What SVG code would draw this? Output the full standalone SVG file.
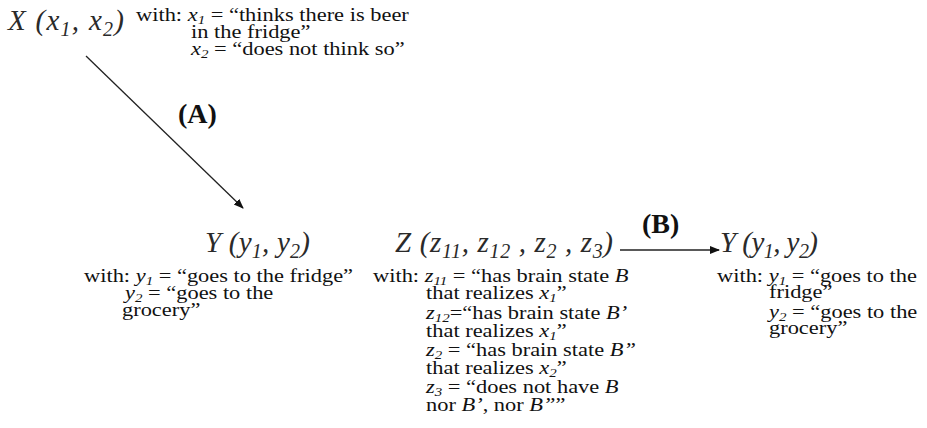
<svg xmlns="http://www.w3.org/2000/svg" width="927" height="428" viewBox="0 0 927 428">
<defs>
<style>
.big{font-family:"Liberation Serif","DejaVu Serif",serif;font-style:italic;font-size:29px;fill:#2a2a2a}
.t{font-family:"Liberation Serif","DejaVu Serif",serif;font-size:19.5px;fill:#111}
.v{font-style:italic}
.lab{font-family:"Liberation Serif","DejaVu Serif",serif;font-size:28px;font-weight:bold;fill:#111}
.edge{stroke:#222;stroke-width:1.3;fill:none}
</style>
<marker id="ah" viewBox="0 0 10 10" refX="9" refY="5" markerWidth="10" markerHeight="10" markerUnits="userSpaceOnUse" orient="auto">
<path d="M0,1 L10,5 L0,9 Z" fill="#111"/>
</marker>
</defs>
<rect width="927" height="428" fill="#fff"/>
<g id="connectors">
<line class="edge" x1="86" y1="56" x2="243" y2="208" marker-end="url(#ah)"/>
<text class="lab" x="178" y="123">(A)</text>
<line class="edge" x1="620" y1="250" x2="719" y2="250" marker-end="url(#ah)"/>
<text class="lab" x="642" y="233">(B)</text>
</g>
<g id="nodeX">
<text class="big" x="8" y="30" font-size="31" textLength="116">X (x<tspan font-size="20" dy="6">1</tspan><tspan dy="-6">, x</tspan><tspan font-size="20" dy="6">2</tspan><tspan dy="-6">)</tspan></text>
<text class="t" transform="translate(136 21) scale(1.15 1)">with: <tspan class="v">x</tspan><tspan class="v" font-size="13" dy="3">1</tspan><tspan dy="-3"> = “thinks there is beer</tspan></text>
<text class="t" transform="translate(191 38) scale(1.15 1)">in the fridge”</text>
<text class="t" transform="translate(191 55) scale(1.15 1)"><tspan class="v">x</tspan><tspan class="v" font-size="13" dy="3">2</tspan><tspan dy="-3"> = “does not think so”</tspan></text>
</g>
<g id="nodeY1">
<text class="big" x="205" y="252" textLength="105">Y (y<tspan font-size="20" dy="6">1</tspan><tspan dy="-6">, y</tspan><tspan font-size="20" dy="6">2</tspan><tspan dy="-6">)</tspan></text>
<text class="t" transform="translate(84 282) scale(1.15 1)">with: <tspan class="v">y</tspan><tspan class="v" font-size="13" dy="3">1</tspan><tspan dy="-3"> = “goes to the fridge”</tspan></text>
<text class="t" transform="translate(125 299) scale(1.15 1)"><tspan class="v">y</tspan><tspan class="v" font-size="13" dy="3">2</tspan><tspan dy="-3"> = “goes to the</tspan></text>
<text class="t" transform="translate(122 316) scale(1.15 1)">grocery”</text>
</g>
<g id="nodeZ">
<text class="big" x="395" y="252" textLength="218">Z (z<tspan font-size="20" dy="6">11</tspan><tspan dy="-6">, z</tspan><tspan font-size="20" dy="6">12</tspan><tspan dy="-6"> , z</tspan><tspan font-size="20" dy="6">2</tspan><tspan dy="-6"> , z</tspan><tspan font-size="20" dy="6">3</tspan><tspan dy="-6">)</tspan></text>
<text class="t" transform="translate(373 282) scale(1.15 1)">with: <tspan class="v">z</tspan><tspan class="v" font-size="13" dy="3">11</tspan><tspan dy="-3"> = “has brain state </tspan><tspan class="v">B</tspan></text>
<text class="t" transform="translate(426 299) scale(1.15 1)">that realizes <tspan class="v">x</tspan><tspan class="v" font-size="13" dy="3">1</tspan><tspan dy="-3">”</tspan></text>
<text class="t" transform="translate(426 319) scale(1.15 1)"><tspan class="v">z</tspan><tspan class="v" font-size="13" dy="3">12</tspan><tspan dy="-3">=“has brain state </tspan><tspan class="v">B’</tspan></text>
<text class="t" transform="translate(426 337) scale(1.15 1)">that realizes <tspan class="v">x</tspan><tspan class="v" font-size="13" dy="3">1</tspan><tspan dy="-3">”</tspan></text>
<text class="t" transform="translate(426 356) scale(1.15 1)"><tspan class="v">z</tspan><tspan class="v" font-size="13" dy="3">2</tspan><tspan dy="-3"> = “has brain state </tspan><tspan class="v">B”</tspan></text>
<text class="t" transform="translate(426 374) scale(1.15 1)">that realizes <tspan class="v">x</tspan><tspan class="v" font-size="13" dy="3">2</tspan><tspan dy="-3">”</tspan></text>
<text class="t" transform="translate(426 393) scale(1.15 1)"><tspan class="v">z</tspan><tspan class="v" font-size="13" dy="3">3</tspan><tspan dy="-3"> = “does not have </tspan><tspan class="v">B</tspan></text>
<text class="t" transform="translate(426 411) scale(1.15 1)">nor <tspan class="v">B’</tspan>, nor <tspan class="v">B”</tspan>”</text>
</g>
<g id="nodeY2">
<text class="big" x="720" y="252" textLength="98">Y (y<tspan font-size="20" dy="6">1</tspan><tspan dy="-6">, y</tspan><tspan font-size="20" dy="6">2</tspan><tspan dy="-6">)</tspan></text>
<text class="t" transform="translate(717 282) scale(1.15 1)">with: <tspan class="v">y</tspan><tspan class="v" font-size="13" dy="3">1</tspan><tspan dy="-3"> = “goes to the</tspan></text>
<text class="t" transform="translate(769 298) scale(1.15 1)">fridge”</text>
<text class="t" transform="translate(769 318) scale(1.15 1)"><tspan class="v">y</tspan><tspan class="v" font-size="13" dy="3">2</tspan><tspan dy="-3"> = “goes to the</tspan></text>
<text class="t" transform="translate(769 334) scale(1.15 1)">grocery”</text>
</g>
</svg>
